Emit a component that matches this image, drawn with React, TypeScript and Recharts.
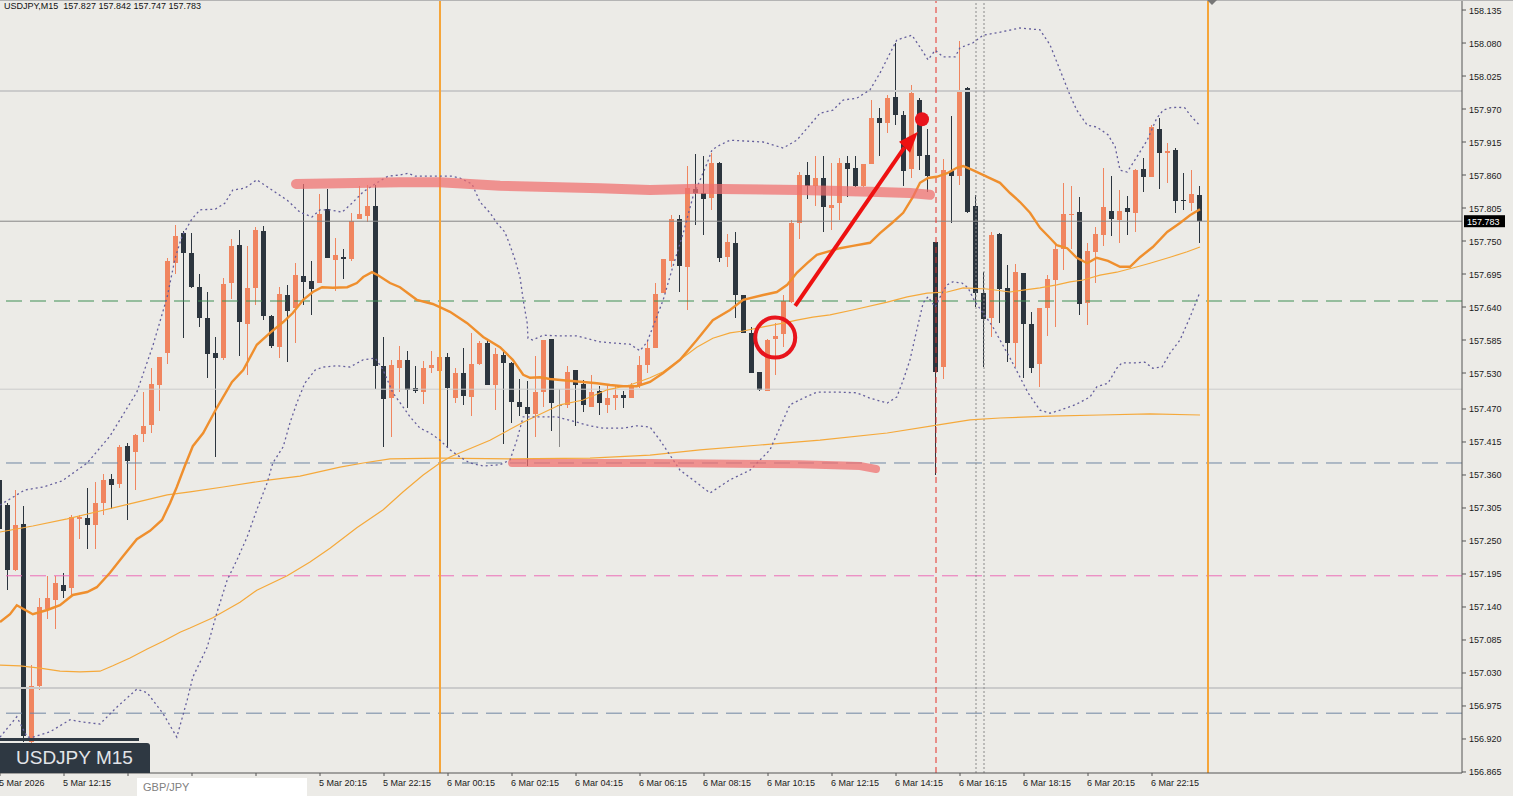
import React from 'react';
import { ComposedChart, Bar, Line, XAxis, YAxis, ReferenceLine, ReferenceDot } from 'recharts';

// USDJPY M15, 5 Mar 10:15 .. 6 Mar 23:45 (151 bars)
const opens = [
  157.352, 157.310, 157.202, 157.278, 156.915, 157.008, 157.137, 157.152, 157.177, 157.172,
  157.287, 157.289, 157.276, 157.313, 157.354, 157.345, 157.409, 157.398, 157.428, 157.443,
  157.510, 157.563, 157.713, 157.764, 157.730, 157.674, 157.622, 157.564, 157.555, 157.680,
  157.744, 157.612, 157.672, 157.767, 157.625, 157.574, 157.660, 157.639, 157.692, 157.684,
  157.680, 157.804, 157.719, 157.724, 157.720, 157.787, 157.792, 157.809, 157.542, 157.489,
  157.539, 157.552, 157.505, 157.499, 157.539, 157.534, 157.557, 157.489, 157.530, 157.490,
  157.545, 157.580, 157.510, 157.560, 157.547, 157.482, 157.474, 157.462, 157.499, 157.587,
  157.477, 157.477, 157.535, 157.512, 157.474, 157.500, 157.477, 157.489, 157.494, 157.489,
  157.510, 157.544, 157.572, 157.664, 157.717, 157.787, 157.707, 157.837, 157.830, 157.822,
  157.880, 157.724, 157.747, 157.660, 157.597, 157.532, 157.500, 157.587, 157.595, 157.649,
  157.780, 157.860, 157.842, 157.855, 157.805, 157.814, 157.880, 157.872, 157.842, 157.879,
  157.955, 157.947, 157.990, 157.960, 157.870, 157.985, 157.894, 157.749, 157.540, 157.867,
  157.859, 158.005, 157.809, 157.664, 157.622, 157.762, 157.672, 157.580, 157.697, 157.612,
  157.545, 157.639, 157.685, 157.737, 157.794, 157.799, 157.647, 157.732, 157.760, 157.800,
  157.785, 157.805, 157.797, 157.870, 157.857, 157.937, 157.897, 157.902, 157.819, 157.814,
  157.827,
];
const highs = [
  157.355, 157.313, 157.335, 157.308, 157.044, 157.155, 157.192, 157.192, 157.197, 157.293,
  157.293, 157.338, 157.349, 157.361, 157.361, 157.410, 157.413, 157.428, 157.498, 157.538,
  157.557, 157.722, 157.776, 157.767, 157.764, 157.695, 157.665, 157.590, 157.689, 157.754,
  157.769, 157.742, 157.774, 157.775, 157.627, 157.674, 157.677, 157.714, 157.845, 157.717,
  157.829, 157.837, 157.755, 157.737, 157.797, 157.842, 157.844, 157.844, 157.590, 157.552,
  157.575, 157.567, 157.542, 157.550, 157.567, 157.585, 157.564, 157.539, 157.572, 157.597,
  157.584, 157.585, 157.572, 157.565, 157.549, 157.520, 157.517, 157.559, 157.585, 157.587,
  157.504, 157.542, 157.535, 157.519, 157.527, 157.509, 157.510, 157.510, 157.500, 157.514,
  157.559, 157.585, 157.680, 157.720, 157.794, 157.794, 157.875, 157.895, 157.892, 157.897,
  157.882, 157.762, 157.765, 157.660, 157.607, 157.532, 157.587, 157.614, 157.660, 157.785,
  157.865, 157.882, 157.892, 157.892, 157.880, 157.889, 157.892, 157.892, 157.879, 157.985,
  157.972, 157.994, 158.080, 157.967, 158.010, 157.989, 157.937, 157.749, 157.887, 157.959,
  158.084, 158.007, 157.827, 157.699, 157.765, 157.764, 157.710, 157.712, 157.697, 157.632,
  157.639, 157.694, 157.744, 157.847, 157.842, 157.824, 157.747, 157.774, 157.872, 157.859,
  157.835, 157.825, 157.870, 157.889, 157.944, 157.955, 157.914, 157.905, 157.863, 157.869,
  157.842,
];
const lows = [
  157.168, 157.168, 157.200, 156.914, 156.912, 157.002, 157.120, 157.103, 157.155, 157.160,
  157.253, 157.237, 157.237, 157.293, 157.302, 157.338, 157.285, 157.335, 157.415, 157.430,
  157.467, 157.545, 157.694, 157.588, 157.672, 157.607, 157.522, 157.390, 157.552, 157.654,
  157.559, 157.527, 157.644, 157.619, 157.572, 157.555, 157.549, 157.580, 157.644, 157.627,
  157.680, 157.722, 157.667, 157.687, 157.717, 157.787, 157.782, 157.504, 157.407, 157.424,
  157.499, 157.472, 157.497, 157.479, 157.530, 157.502, 157.405, 157.480, 157.477, 157.459,
  157.544, 157.510, 157.469, 157.412, 157.447, 157.459, 157.375, 157.424, 157.474, 157.434,
  157.407, 157.472, 157.442, 157.465, 157.474, 157.460, 157.464, 157.469, 157.472, 157.489,
  157.505, 157.530, 157.572, 157.664, 157.707, 157.665, 157.635, 157.777, 157.760, 157.802,
  157.715, 157.707, 157.622, 157.597, 157.530, 157.500, 157.500, 157.527, 157.574, 157.647,
  157.754, 157.820, 157.809, 157.765, 157.769, 157.785, 157.824, 157.840, 157.840, 157.879,
  157.892, 157.930, 157.944, 157.842, 157.855, 157.869, 157.832, 157.360, 157.520, 157.780,
  157.844, 157.797, 157.640, 157.540, 157.590, 157.614, 157.549, 157.540, 157.522, 157.530,
  157.507, 157.592, 157.607, 157.702, 157.737, 157.627, 157.610, 157.680, 157.742, 157.759,
  157.747, 157.760, 157.765, 157.832, 157.857, 157.837, 157.847, 157.797, 157.802, 157.800,
  157.747,
];
const closes = [
  157.270, 157.202, 157.276, 156.925, 157.008, 157.140, 157.155, 157.180, 157.166, 157.290,
  157.290, 157.276, 157.313, 157.352, 157.344, 157.407, 157.383, 157.426, 157.442, 157.512,
  157.556, 157.716, 157.759, 157.730, 157.674, 157.622, 157.562, 157.555, 157.679, 157.742,
  157.615, 157.672, 157.769, 157.625, 157.575, 157.662, 157.634, 157.694, 157.682, 157.670,
  157.795, 157.722, 157.727, 157.720, 157.784, 157.795, 157.809, 157.542, 157.487, 157.544,
  157.552, 157.502, 157.500, 157.539, 157.544, 157.557, 157.505, 157.530, 157.492, 157.545,
  157.580, 157.510, 157.562, 157.547, 157.482, 157.474, 157.462, 157.499, 157.585, 157.480,
  157.477, 157.532, 157.510, 157.477, 157.499, 157.480, 157.489, 157.494, 157.489, 157.510,
  157.544, 157.572, 157.662, 157.720, 157.787, 157.709, 157.839, 157.830, 157.820, 157.880,
  157.722, 157.749, 157.660, 157.597, 157.530, 157.502, 157.585, 157.592, 157.650, 157.780,
  157.860, 157.842, 157.855, 157.807, 157.810, 157.880, 157.870, 157.842, 157.879, 157.955,
  157.947, 157.989, 157.960, 157.867, 157.997, 157.892, 157.859, 157.532, 157.869, 157.859,
  158.002, 157.799, 157.664, 157.620, 157.760, 157.670, 157.580, 157.699, 157.612, 157.539,
  157.639, 157.687, 157.737, 157.795, 157.795, 157.645, 157.734, 157.762, 157.807, 157.787,
  157.800, 157.799, 157.869, 157.857, 157.940, 157.897, 157.900, 157.817, 157.817, 157.829,
  157.783,
];

const timeLabels = [
  '5 Mar 2026', '5 Mar 12:15', '5 Mar 14:15', '5 Mar 16:15', '5 Mar 18:15', '5 Mar 20:15',
  '5 Mar 22:15', '6 Mar 00:15', '6 Mar 02:15', '6 Mar 04:15', '6 Mar 06:15', '6 Mar 08:15',
  '6 Mar 10:15', '6 Mar 12:15', '6 Mar 14:15', '6 Mar 16:15', '6 Mar 18:15', '6 Mar 20:15',
  '6 Mar 22:15',
];
const barsPerLabel = 8;
// labels that sit under the GBP/JPY tab in the terminal
const coveredLabels = [2, 3, 4];
const priceLabels = [
  '158.135', '158.080', '158.025', '157.970', '157.915', '157.860', '157.805', '157.750',
  '157.695', '157.640', '157.585', '157.530', '157.470', '157.415', '157.360', '157.305',
  '157.250', '157.195', '157.140', '157.085', '157.030', '156.975', '156.920', '156.865',
];

// indicator readings: [bar index, price]
const bbUpper = [
  [0, 157.310], [3.1, 157.335], [5.4, 157.340], [7.75, 157.350], [10.9, 157.380], [13.75, 157.425],
  [17.1, 157.498], [19.1, 157.575], [20.9, 157.657], [21.9, 157.722], [22.75, 157.758], [24, 157.787],
  [25, 157.802], [26.9, 157.803], [28.1, 157.813], [29.1, 157.835], [30.6, 157.838], [32.1, 157.852],
  [34, 157.835], [35.9, 157.818], [37.5, 157.798], [39, 157.790], [40, 157.802], [41.25, 157.802],
  [42.75, 157.798], [44, 157.813], [45.4, 157.832], [47.1, 157.847], [48.5, 157.858], [50, 157.860],
  [51, 157.863], [51.9, 157.858], [56.5, 157.858], [57.5, 157.855], [59, 157.845], [60, 157.815],
  [61.25, 157.797], [62.1, 157.780], [63.1, 157.765], [63.75, 157.743], [64.4, 157.718], [65, 157.690],
  [65.4, 157.652], [65.9, 157.613], [66, 157.588], [66.6, 157.585], [67.9, 157.593], [69.6, 157.592],
  [72.1, 157.592], [75, 157.582], [76.6, 157.580], [78.75, 157.578], [80, 157.567], [80.9, 157.582],
  [82.9, 157.652], [84.1, 157.707], [85.4, 157.763], [86.6, 157.823], [88.4, 157.880], [89, 157.902],
  [90, 157.910], [91.25, 157.918], [95.4, 157.915], [97.9, 157.905], [99.6, 157.918], [102.5, 157.963],
  [104.1, 157.968], [105.4, 157.985], [107.1, 157.988], [108.75, 158.002], [110, 158.030], [111.25, 158.063],
  [112.1, 158.085], [114, 158.093], [115, 158.073], [116, 158.052], [116.9, 158.068], [117.9, 158.057],
  [119.4, 158.057], [120, 158.072], [121.6, 158.080], [122.9, 158.093], [124.6, 158.097], [127.5, 158.105],
  [130, 158.102], [131.25, 158.077], [132.5, 158.035], [133.75, 157.993], [134.6, 157.968], [135.9, 157.943],
  [137.1, 157.940], [138.5, 157.927], [139.4, 157.907], [140, 157.868], [140.9, 157.865], [142.1, 157.890],
  [143.4, 157.918], [144.6, 157.955], [145.4, 157.968], [146.25, 157.972], [147.25, 157.973], [148.1, 157.972],
  [148.75, 157.960], [150, 157.942],
];
const bbLower = [
  [0, 156.923], [2.1, 156.957], [3.4, 156.923], [4.1, 156.923], [6.25, 156.932], [8.75, 156.952],
  [10.4, 156.948], [12.5, 156.945], [14.6, 156.973], [17.1, 157.003], [18.4, 156.997], [20.4, 156.962],
  [22.1, 156.923], [23.4, 156.985], [24.1, 157.023], [25.9, 157.073], [27.1, 157.130], [28.4, 157.185],
  [29.6, 157.218], [30.9, 157.257], [32.1, 157.302], [33.4, 157.347], [34.1, 157.380], [35.4, 157.407],
  [36.25, 157.447], [37.1, 157.480], [38.1, 157.513], [39.4, 157.535], [40.4, 157.540], [42.1, 157.542],
  [43.75, 157.540], [45.4, 157.552], [46.9, 157.555], [47.9, 157.535], [49.1, 157.497], [49.6, 157.488],
  [51.25, 157.457], [52.5, 157.438], [53.75, 157.430], [55, 157.418], [56.25, 157.402], [57.5, 157.390],
  [58.75, 157.380], [60.4, 157.375], [62.5, 157.377], [63.75, 157.385], [64.6, 157.418], [65.4, 157.457],
  [67.5, 157.457], [69.6, 157.457], [72.1, 157.448], [73.75, 157.442], [75.4, 157.438], [77.9, 157.438],
  [79.6, 157.442], [81.25, 157.440], [82.5, 157.418], [85, 157.368], [87.5, 157.343], [88.75, 157.330],
  [91.25, 157.352], [93.75, 157.368], [96.25, 157.402], [98.75, 157.477], [100.4, 157.488], [102.1, 157.498],
  [105, 157.498], [107.1, 157.497], [108.75, 157.488], [110.9, 157.480], [112.1, 157.490], [112.9, 157.518],
  [113.75, 157.552], [114.6, 157.602], [115.4, 157.647], [116, 157.657], [116.9, 157.640], [117.75, 157.663],
  [118.4, 157.677], [119.1, 157.682], [120.25, 157.680], [121, 157.672], [121.9, 157.648], [122.9, 157.630],
  [124.1, 157.607], [125, 157.585], [126.25, 157.555], [127.5, 157.523], [128.5, 157.497], [130, 157.468],
  [131.25, 157.463], [132.5, 157.468], [134.4, 157.477], [136.25, 157.490], [137.1, 157.507], [138.5, 157.513],
  [139.6, 157.538], [140.25, 157.547], [141.9, 157.547], [143.1, 157.548], [144.1, 157.538], [145.25, 157.540],
  [146.25, 157.563], [147.5, 157.585], [148.75, 157.623], [150, 157.665],
];
const maFast = [
  [0, 157.115], [1.25, 157.128], [2.1, 157.143], [4.1, 157.128], [5.9, 157.135], [7.5, 157.143],
  [9.1, 157.160], [10.9, 157.165], [12.1, 157.173], [13.75, 157.197], [15.4, 157.225], [17.1, 157.253],
  [18.75, 157.267], [20.25, 157.285], [21.25, 157.313], [22.1, 157.340], [23.1, 157.375], [24.1, 157.408],
  [25.4, 157.430], [27.1, 157.472], [29, 157.515], [30.4, 157.535], [32.1, 157.577], [33.75, 157.597],
  [35.4, 157.615], [36.6, 157.630], [37.9, 157.652], [39.1, 157.665], [40.25, 157.673], [41.6, 157.672],
  [43.4, 157.673], [44.6, 157.680], [45.4, 157.690], [46.5, 157.698], [47.25, 157.693], [48.75, 157.680],
  [50, 157.673], [52.1, 157.652], [54.1, 157.645], [56.25, 157.632], [58.4, 157.613], [60.4, 157.590],
  [62.5, 157.573], [64.1, 157.552], [65.4, 157.527], [66.25, 157.522], [67.5, 157.523], [68.75, 157.520],
  [70.4, 157.518], [72.9, 157.515], [74.6, 157.513], [76.25, 157.510], [77.9, 157.508], [79.6, 157.508],
  [81.25, 157.515], [82.9, 157.530], [85, 157.552], [87.1, 157.585], [89.1, 157.618], [91.25, 157.635],
  [92.9, 157.652], [95.4, 157.660], [97.1, 157.665], [98.4, 157.677], [99.6, 157.697], [100.9, 157.713],
  [102.1, 157.727], [105, 157.738], [106.6, 157.742], [108.75, 157.747], [110, 157.763], [111.5, 157.780],
  [112.9, 157.797], [114.1, 157.823], [115, 157.847], [116, 157.855], [117.1, 157.857], [118.4, 157.863],
  [119.6, 157.872], [120.4, 157.875], [121.6, 157.868], [123.4, 157.857], [125, 157.847], [126.25, 157.830],
  [127.5, 157.815], [128.75, 157.797], [130, 157.772], [131.25, 157.755], [132.1, 157.743], [133.4, 157.738],
  [134.6, 157.722], [135.9, 157.713], [137.1, 157.722], [138.5, 157.717], [140, 157.707], [141.25, 157.707],
  [142.5, 157.723], [144.1, 157.740], [145.9, 157.765], [147.5, 157.780], [148.75, 157.793], [150, 157.803],
];
const maMid = [
  [0, 157.043], [2.5, 157.042], [5, 157.038], [7.5, 157.033], [10, 157.032], [12.5, 157.033],
  [14.1, 157.042], [16.25, 157.055], [18.4, 157.070], [20.4, 157.083], [22.5, 157.098], [23.75, 157.105],
  [26.6, 157.122], [30, 157.148], [32.1, 157.168], [35.9, 157.192], [38.75, 157.215], [41.25, 157.238],
  [44.6, 157.272], [47.9, 157.302], [50.4, 157.332], [52.9, 157.360], [55, 157.380], [56.25, 157.390],
  [61.25, 157.418], [65.4, 157.448], [70, 157.477], [72.9, 157.485], [75.9, 157.502], [78.75, 157.510],
  [81.25, 157.522], [82.9, 157.532], [85, 157.552], [87.1, 157.573], [89.1, 157.588], [91.25, 157.597],
  [92.9, 157.600], [95.4, 157.607], [97.9, 157.613], [99.6, 157.618], [101.6, 157.623], [103.75, 157.627],
  [106.6, 157.635], [110.9, 157.648], [113.4, 157.657], [115.9, 157.663], [118.4, 157.665], [120.4, 157.672],
  [123.4, 157.670], [126.25, 157.665], [127.9, 157.668], [130, 157.672], [132.1, 157.677], [133.75, 157.682],
  [135.4, 157.685], [137.5, 157.693], [139.6, 157.698], [141.6, 157.705], [143.75, 157.713], [146.25, 157.723],
  [148.4, 157.732], [150, 157.740],
];
const maSlow = [
  [0, 157.265], [4.1, 157.275], [8.4, 157.287], [12.5, 157.300], [16.6, 157.313], [20.9, 157.327],
  [23.75, 157.332], [27.9, 157.340], [33.75, 157.352], [37.5, 157.358], [42.5, 157.373], [45.4, 157.380],
  [48.75, 157.387], [55, 157.388], [63.75, 157.387], [73.75, 157.388], [81.25, 157.393], [87.5, 157.402],
  [95, 157.410], [102.5, 157.418], [110.9, 157.430], [117.1, 157.443], [121.25, 157.452], [125, 157.455],
  [131.25, 157.458], [137.5, 157.460], [143.75, 157.462], [150, 157.460],
];

// hand-drawn marks
const resistanceStroke = [
  [37, 157.845], [50, 157.848], [55, 157.848], [62.5, 157.842], [75, 157.838], [81.25, 157.835],
  [87.5, 157.837], [100, 157.835], [108.75, 157.832], [113.75, 157.830], [116.25, 157.827],
];
const supportStroke = [[64, 157.380], [81.25, 157.380], [100, 157.378], [107.5, 157.375], [109.5, 157.370]];
const arrowTail = [99.4, 157.642];
const arrowBase = [113.06, 157.906];
const arrowTip = [114.75, 157.932];
const circleMark = [96.9, 157.589];
const dotMark = [115.25, 157.953];

// levels
const bidPrice = 157.783;
const grayLevels = [158.0, 157.503, 157.005];
const slateDashLevels = [157.38, 156.963];
const greenLevel = 157.65;
const pinkLevel = 157.192;
const sessionBars = [55, 151];
const newsBar = 117;
const dottedBars = [122, 123];

const candles = opens.map((o, i) => ({ i, o, h: highs[i], l: lows[i], c: closes[i] }));
const toPts = (arr: number[][]) => arr.map(([i, v]) => ({ i, v }));

const FONT = "'Liberation Sans', Arial, sans-serif";
const BULL = '#f0855f';
const BEAR = '#2c353e';
const BG = '#ecebe7';
const BAND = '#645e9c';

const Candle = (props: any) => {
  const { x, y, width, height, payload } = props;
  if (x == null || y == null || !payload) return null;
  const { o, h, l, c } = payload;
  const top = Math.min(y, y + height);
  const hh = Math.abs(height);
  const k = h > l ? hh / (h - l) : 0;
  const py = (v: number) => top + (h - v) * k;
  const cx = Math.floor(x + width / 2);
  const color = c > o ? BULL : c < o ? BEAR : '#8a8a8a';
  const bTop = Math.round(py(Math.max(o, c)));
  const bBot = Math.round(py(Math.min(o, c)));
  return (
    <g>
      <rect x={cx} y={Math.round(top)} width={1} height={Math.max(1, Math.round(hh))} fill={color} />
      <rect x={cx - 2} y={bTop} width={5} height={Math.max(1, bBot - bTop)} fill={color} />
    </g>
  );
};

const TimeTick = ({ x, y, payload }: any) => {
  const k = Math.round(payload.value / barsPerLabel);
  if (coveredLabels.includes(k)) return null;
  return (
    <text x={x - 1} y={y + 8} fontSize={9} fill="#1a1a1a" fontFamily={FONT}>
      {timeLabels[k]}
    </text>
  );
};

const PriceTick = ({ x, y, payload }: any) => (
  <text x={x + 1} y={y + 3.5} fontSize={9} fill="#1a1a1a" fontFamily={FONT}>
    {payload.value.toFixed(3)}
  </text>
);

const BidTag = (props: any) => {
  const vb = props.viewBox;
  if (!vb) return null;
  const x = vb.x + vb.width + 2;
  return (
    <g>
      <rect x={x} y={vb.y - 6} width={41} height={12} fill="#000" />
      <text x={x + 3} y={vb.y + 3.5} fontSize={9} fill="#fff" fontFamily={FONT}>
        {bidPrice.toFixed(3)}
      </text>
    </g>
  );
};

const ArrowHead = (props: any) => {
  const { cx, cy } = props;
  if (cx == null) return null;
  return <polygon points={`${cx},${cy} ${cx - 19},${cy + 10} ${cx - 8},${cy + 21}`} fill="#ee1111" />;
};

export default function App() {
  const xTicks = timeLabels.map((_, k) => k * barsPerLabel);
  const yTicks = priceLabels.map(Number);
  return (
    <div style={{ position: 'absolute', left: 0, top: 0, width: 1513, height: 796, background: BG, overflow: 'hidden', fontFamily: FONT }}>
      <ComposedChart width={1513} height={796} data={candles} margin={{ top: 0, right: 0, bottom: 0, left: 0 }}>
        <XAxis
          dataKey="i"
          type="number"
          domain={[0, 182.75]}
          allowDataOverflow
          ticks={xTicks}
          interval={0}
          height={23}
          tick={<TimeTick />}
          tickSize={3}
          axisLine={{ stroke: '#555' }}
          tickLine={{ stroke: '#555' }}
        />
        <YAxis
          orientation="right"
          type="number"
          domain={[156.8633, 158.1517]}
          allowDataOverflow
          ticks={yTicks}
          interval={0}
          width={51}
          tick={<PriceTick />}
          tickSize={4}
          axisLine={{ stroke: '#555' }}
          tickLine={{ stroke: '#555' }}
        />

        {grayLevels.map((p, k) => (
          <ReferenceLine key={`g${k}`} y={p} stroke="#cbcbcb" strokeWidth={k === 1 ? 1 : 2} />
        ))}
        {slateDashLevels.map((p, k) => (
          <ReferenceLine key={`s${k}`} y={p} stroke="#6f86a3" strokeDasharray="16 8" />
        ))}
        <ReferenceLine y={greenLevel} stroke="#3f8f55" strokeDasharray="16 8" />
        <ReferenceLine y={pinkLevel} stroke="#ec6db8" strokeDasharray="16 8" />
        <ReferenceLine y={bidPrice} stroke="#858585" label={<BidTag />} />

        {sessionBars.map((b) => (
          <ReferenceLine key={`v${b}`} x={b} stroke="#f5a53a" strokeWidth={2} />
        ))}
        <ReferenceLine x={newsBar} stroke="#e4302a" strokeDasharray="6 4" />
        {dottedBars.map((b) => (
          <ReferenceLine key={`d${b}`} x={b} stroke="#8a8a8a" strokeDasharray="2 2" />
        ))}

        <Bar dataKey={(d: any) => [d.l, d.h]} shape={<Candle />} barSize={8} isAnimationActive={false} />

        <Line data={toPts(maSlow)} dataKey="v" stroke="#f5a93b" strokeWidth={1.2} dot={false} activeDot={false} isAnimationActive={false} />
        <Line data={toPts(maMid)} dataKey="v" stroke="#f5a93b" strokeWidth={1.2} dot={false} activeDot={false} isAnimationActive={false} />
        <Line data={toPts(maFast)} dataKey="v" stroke="#ef8f2e" strokeWidth={2.4} dot={false} activeDot={false} isAnimationActive={false} />
        <Line data={toPts(bbUpper)} dataKey="v" stroke={BAND} strokeWidth={1.3} strokeDasharray="2 3" dot={false} activeDot={false} isAnimationActive={false} />
        <Line data={toPts(bbLower)} dataKey="v" stroke={BAND} strokeWidth={1.3} strokeDasharray="2 3" dot={false} activeDot={false} isAnimationActive={false} />

        <Line data={toPts(resistanceStroke)} dataKey="v" stroke="#f06e6e" strokeOpacity={0.72} strokeWidth={10} strokeLinecap="round" dot={false} activeDot={false} isAnimationActive={false} />
        <Line data={toPts(supportStroke)} dataKey="v" stroke="#f06e6e" strokeOpacity={0.72} strokeWidth={8} strokeLinecap="round" dot={false} activeDot={false} isAnimationActive={false} />

        <ReferenceLine
          segment={[{ x: arrowTail[0], y: arrowTail[1] }, { x: arrowBase[0], y: arrowBase[1] }]}
          stroke="#ee1111"
          strokeWidth={4}
        />
        <ReferenceDot x={arrowTip[0]} y={arrowTip[1]} r={1} shape={<ArrowHead />} />
        <ReferenceDot x={circleMark[0]} y={circleMark[1]} r={20} fill="none" stroke="#e8141c" strokeWidth={4} />
        <ReferenceDot x={dotMark[0]} y={dotMark[1]} r={7} fill="#e8141c" stroke="none" />
      </ComposedChart>

      {/* window furniture */}
      <div style={{ position: 'absolute', left: 0, top: 0, width: 1513, height: 1, background: '#b4b4b4' }} />
      <svg style={{ position: 'absolute', left: 1206, top: 0 }} width={14} height={6}>
        <polygon points="1,0 11,0 6,5" fill="#777" />
      </svg>
      <div style={{ position: 'absolute', left: 4, top: 1, fontSize: 9, color: '#111', whiteSpace: 'pre', lineHeight: '11px' }}>
        {'USDJPY,M15  ' + [opens[150], highs[150], lows[150], closes[150]].map((v) => v.toFixed(3)).join(' ')}
      </div>
      <div style={{ position: 'absolute', left: 0, top: 738, width: 139, height: 3, background: '#2f3943' }} />
      <div
        style={{
          position: 'absolute', left: 0, top: 743, width: 150, height: 30, background: '#2e3842',
          borderTopRightRadius: 3, color: '#e2e4e8', fontSize: 19, lineHeight: '30px', paddingLeft: 16, boxSizing: 'border-box',
        }}
      >
        USDJPY M15
      </div>
      <div
        style={{
          position: 'absolute', left: 137, top: 778, width: 170, height: 18, background: '#fff',
          color: '#808080', fontSize: 11, lineHeight: '18px', paddingLeft: 6, boxSizing: 'border-box',
        }}
      >
        GBP/JPY
      </div>
    </div>
  );
}
